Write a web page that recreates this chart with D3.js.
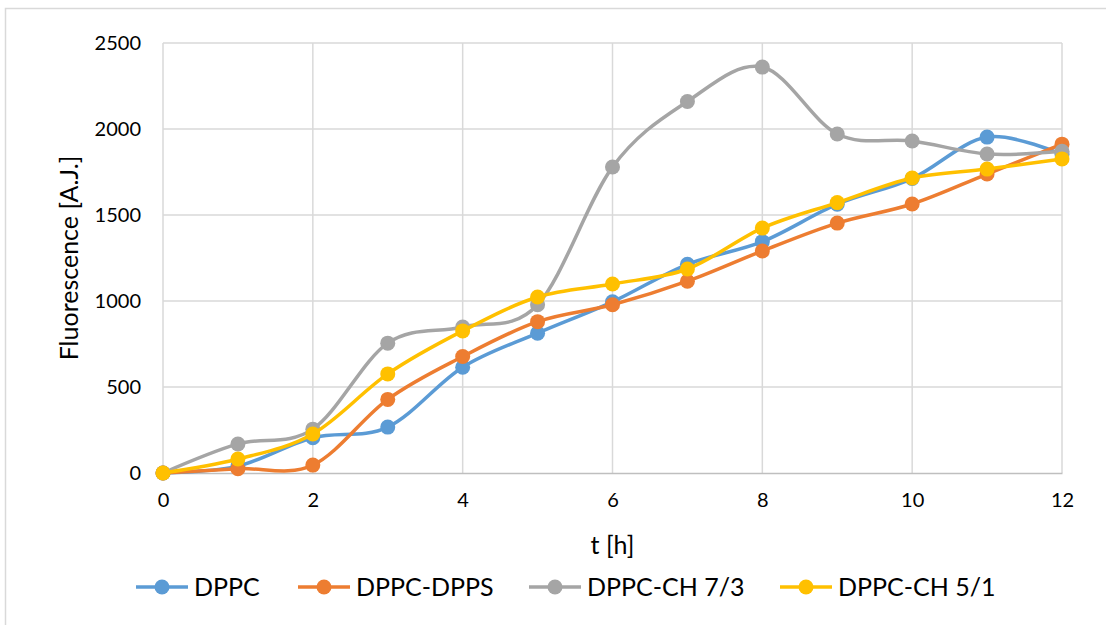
<!DOCTYPE html>
<html>
<head>
<meta charset="utf-8">
<script src="https://cdn.jsdelivr.net/npm/d3@7"></script>
<style>
  body { margin: 0; background: #fff; }
  svg { font-family: Lato, "Open Sans", sans-serif; }
</style>
</head>
<body>
<div id="chart"></div>
<script>
// time points (h)
const hours = [0, 1, 2, 3, 4, 5, 6, 7, 8, 9, 10, 11, 12];

const dppc      = [0, 40, 205, 267, 615, 813, 995, 1213, 1345, 1563, 1712, 1953, 1852];
const dppcDpps  = [0, 25, 46, 428, 677, 880, 978, 1115, 1291, 1453, 1564, 1738, 1912];
const dppcCh73  = [0, 169, 255, 755, 849, 978, 1779, 2160, 2360, 1971, 1930, 1855, 1870];
const dppcCh51  = [0, 81, 227, 576, 826, 1023, 1099, 1186, 1424, 1572, 1715, 1767, 1826];

const seriesNames = ['DPPC', 'DPPC-DPPS', 'DPPC-CH 7/3', 'DPPC-CH 5/1'];
const seriesColors = ['#5B9BD5', '#ED7D31', '#A5A5A5', '#FFC000'];
const seriesValues = [dppc, dppcDpps, dppcCh73, dppcCh51];

const xTicks = [0, 2, 4, 6, 8, 10, 12];
const yTicks = [0, 500, 1000, 1500, 2000, 2500];

const W = 1106, H = 625;
const plot = {left: 163, right: 1062, top: 43, bottom: 473};

const svg = d3.select('#chart').append('svg')
    .attr('width', W)
    .attr('height', H);

// outer chart border
svg.append('rect')
    .attr('x', 5.5).attr('y', 8.5)
    .attr('width', 1200).attr('height', 700)
    .attr('fill', 'none')
    .attr('stroke', '#D9D9D9')
    .attr('stroke-width', 1.5);

const x = d3.scaleLinear().domain([0, 12]).range([plot.left, plot.right]);
const y = d3.scaleLinear().domain([0, 2500]).range([plot.bottom, plot.top]);

// gridlines
svg.append('g')
  .selectAll('line.h')
  .data(yTicks.filter(d => d > 0))
  .join('line')
    .attr('x1', plot.left).attr('x2', plot.right)
    .attr('y1', d => y(d)).attr('y2', d => y(d))
    .attr('stroke', '#D9D9D9')
    .attr('stroke-width', 1.5);

svg.append('g')
  .selectAll('line.v')
  .data(xTicks)
  .join('line')
    .attr('x1', d => x(d)).attr('x2', d => x(d))
    .attr('y1', plot.top).attr('y2', plot.bottom)
    .attr('stroke', '#D9D9D9')
    .attr('stroke-width', 1.5);

// x axis
const xAxis = svg.append('g')
    .attr('transform', `translate(0,${plot.bottom})`)
    .call(d3.axisBottom(x).tickValues(xTicks).tickSize(0).tickPadding(20));
xAxis.select('.domain').attr('stroke', '#BFBFBF').attr('stroke-width', 1.5);
xAxis.selectAll('text').attr('font-size', 20).attr('fill', '#000').attr('font-family', 'Lato');

// y axis
const yAxis = svg.append('g')
    .attr('transform', `translate(${plot.left},0)`)
    .call(d3.axisLeft(y).tickValues(yTicks).tickFormat(d3.format('d')).tickSize(0).tickPadding(22));
yAxis.select('.domain').remove();
yAxis.selectAll('text').attr('font-size', 20).attr('fill', '#000').attr('font-family', 'Lato');

// series
const line = d3.line()
    .x((d, i) => x(hours[i]))
    .y(d => y(d))
    .curve(d3.curveCardinal.tension(0));

seriesValues.forEach((vals, k) => {
  const g = svg.append('g');
  g.append('path')
    .datum(vals)
    .attr('d', line)
    .attr('fill', 'none')
    .attr('stroke', seriesColors[k])
    .attr('stroke-width', 3.5)
    .attr('stroke-linecap', 'round');
  g.selectAll('circle')
    .data(vals)
    .join('circle')
      .attr('cx', (d, i) => x(hours[i]))
      .attr('cy', d => y(d))
      .attr('r', 7.5)
      .attr('fill', seriesColors[k]);
});

// axis titles
svg.append('text')
    .attr('x', (plot.left + plot.right) / 2)
    .attr('y', 554)
    .attr('text-anchor', 'middle')
    .attr('font-size', 25)
    .text('t [h]');

svg.append('text')
    .attr('transform', `translate(78,${(plot.top + plot.bottom) / 2}) rotate(-90)`)
    .attr('text-anchor', 'middle')
    .attr('font-size', 25)
    .text('Fluorescence [A.J.]');

// legend
const legendX = [136, 298, 529, 780];
const legendY = 587;
seriesNames.forEach((name, k) => {
  const lg = svg.append('g').attr('transform', `translate(${legendX[k]},${legendY})`);
  lg.append('line')
    .attr('x1', 0).attr('x2', 52)
    .attr('stroke', seriesColors[k])
    .attr('stroke-width', 3.5);
  lg.append('circle')
    .attr('cx', 26).attr('r', 7.5)
    .attr('fill', seriesColors[k]);
  lg.append('text')
    .attr('x', 58)
    .attr('dy', '0.36em')
    .attr('font-size', 25)
    .text(name);
});
</script>
</body>
</html>
